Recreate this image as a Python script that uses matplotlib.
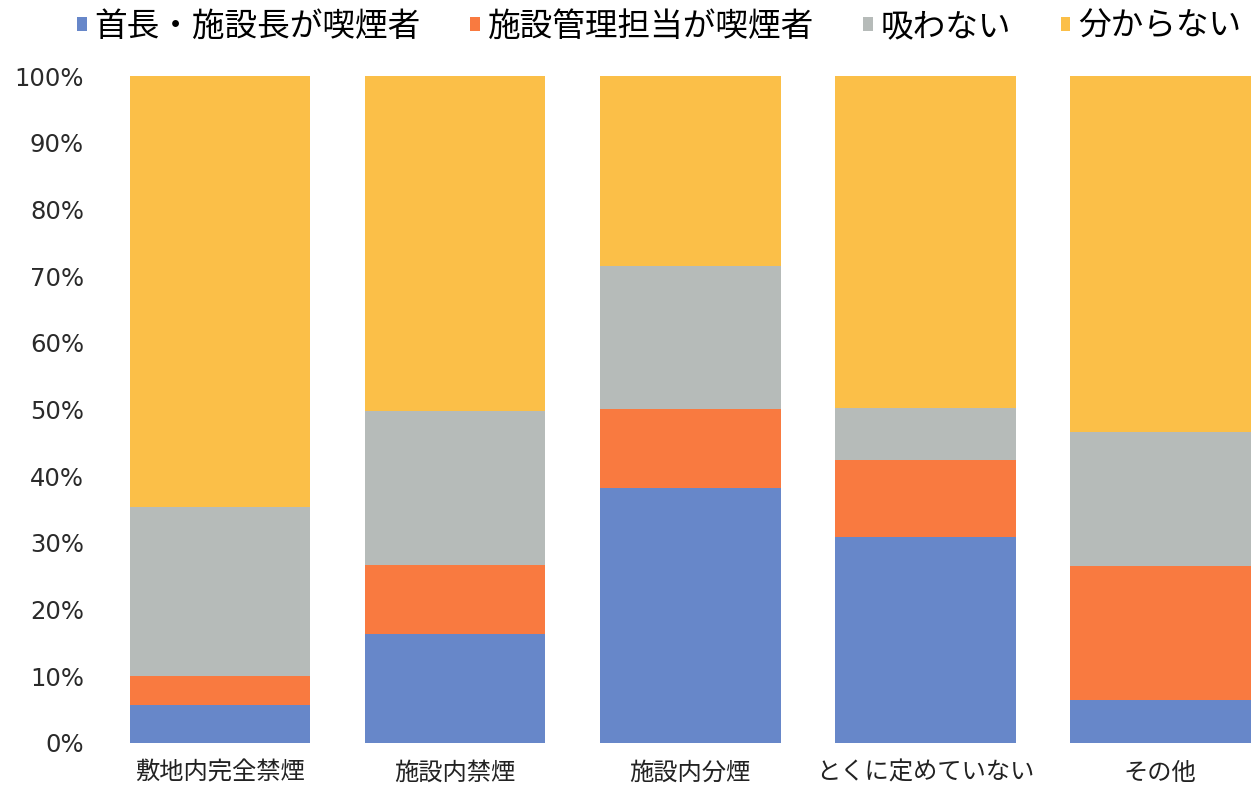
import matplotlib
matplotlib.use("Agg")
import matplotlib.pyplot as plt
import numpy as np
from matplotlib.ticker import FuncFormatter

plt.rcParams['font.family'] = ['Noto Sans CJK JP', 'DejaVu Sans']

categories = ['敷地内完全禁煙', '施設内禁煙', '施設内分煙', 'とくに定めていない', 'その他']
series_names = ['首長・施設長が喫煙者', '施設管理担当が喫煙者', '吸わない', '分からない']
head_smoker = [5.7, 16.3, 38.2, 30.9, 6.5]
manager_smoker = [4.3, 10.4, 11.9, 11.6, 20.0]
non_smoker = [25.4, 23.1, 21.4, 7.7, 20.1]
unknown = [64.6, 50.2, 28.5, 49.8, 53.4]
colors = ['#6787c9', '#f97a40', '#b6bbb9', '#fbbf48']
yticks = [0, 10, 20, 30, 40, 50, 60, 70, 80, 90, 100]

fig = plt.figure(figsize=(12.58, 7.91), dpi=100)
ax = fig.add_axes([120/1258, (791-743)/791, (1255-120)/1258, (743-76)/791])

x = np.arange(len(categories))
bottom = np.zeros(len(categories))
handles = []
for vals, name, c in zip([head_smoker, manager_smoker, non_smoker, unknown], series_names, colors):
    h = ax.bar(x, vals, width=0.77, bottom=bottom, color=c, label=name)
    handles.append(h)
    bottom += np.array(vals)

ax.set_xlim(-0.4255, 4.404)
ax.set_ylim(0, 100)
ax.set_yticks(yticks)
ax.yaxis.set_major_formatter(FuncFormatter(lambda v, p: f"{int(v)}%"))
ax.set_xticks(x)
ax.set_xticklabels(categories, fontsize=17.5)
for lbl in ax.get_yticklabels():
    lbl.set_family('DejaVu Sans')
ax.tick_params(axis='y', labelsize=17.5, length=0, pad=26, colors='#2a2a2a')
ax.tick_params(axis='x', length=0, pad=12, colors='#222222')
for s in ax.spines.values():
    s.set_visible(False)

leg = fig.legend(handles=handles, labels=series_names, loc='center', bbox_to_anchor=(0.524, 0.966),
                 ncol=4, frameon=False, fontsize=23.5, handlelength=0.3, handleheight=0.3,
                 handletextpad=0.25, columnspacing=1.5)

fig.savefig('out.png', dpi=100)
